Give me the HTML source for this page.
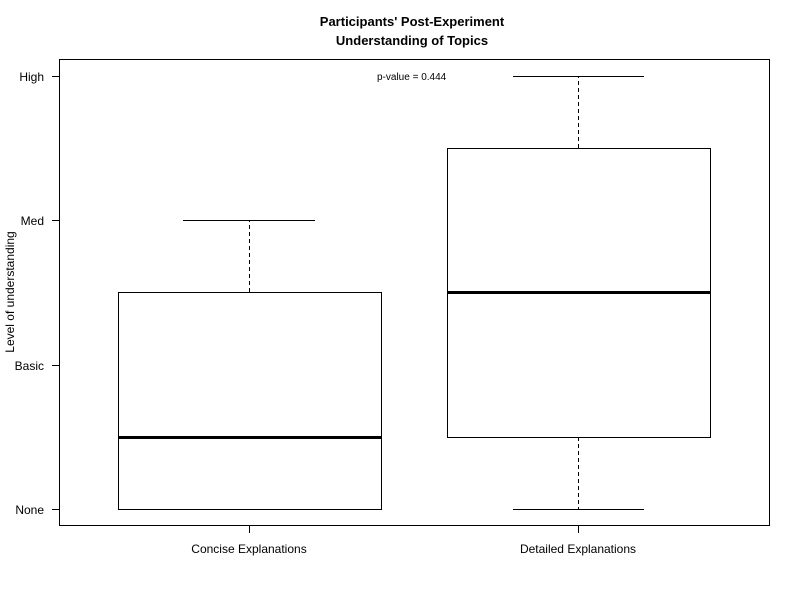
<!DOCTYPE html>
<html><head><meta charset="utf-8"><style>
html,body{margin:0;padding:0;background:#fff;}
svg{display:block;font-family:"Liberation Sans",Arial,sans-serif;}
</style></head><body>
<svg width="800" height="600" viewBox="0 0 800 600" xmlns="http://www.w3.org/2000/svg">
<rect width="800" height="600" fill="#fff"/>
<text x="412" y="26" font-size="13" font-weight="bold" text-anchor="middle">Participants' Post-Experiment</text>
<text x="412" y="45" font-size="13" font-weight="bold" text-anchor="middle">Understanding of Topics</text>
<rect x="59.5" y="59.5" width="710" height="466" fill="none" stroke="#000" stroke-width="1"/>
<g stroke="#000" stroke-width="1">
<line x1="52" y1="76.5" x2="59" y2="76.5"/>
<line x1="52" y1="220.5" x2="59" y2="220.5"/>
<line x1="52" y1="365.5" x2="59" y2="365.5"/>
<line x1="52" y1="509.5" x2="59" y2="509.5"/>
<line x1="249.5" y1="526" x2="249.5" y2="533"/>
<line x1="578.5" y1="526" x2="578.5" y2="533"/>
</g>
<g font-size="12" text-anchor="end">
<text x="44" y="81">High</text>
<text x="44" y="225">Med</text>
<text x="44" y="370">Basic</text>
<text x="44" y="514">None</text>
</g>
<text x="249" y="553" font-size="12" text-anchor="middle">Concise Explanations</text>
<text x="578" y="553" font-size="12" text-anchor="middle">Detailed Explanations</text>
<text transform="translate(14,292) rotate(-90)" font-size="12" text-anchor="middle">Level of understanding</text>
<text x="377" y="80" font-size="10">p-value = 0.444</text>
<g stroke="#000" fill="none" stroke-width="1">
<rect x="118.5" y="292.5" width="263" height="217"/>
<line x1="249.5" y1="292" x2="249.5" y2="220" stroke-dasharray="4,3"/>
<line x1="183" y1="220.5" x2="315" y2="220.5"/>
<rect x="447.5" y="148.5" width="263" height="289"/>
<line x1="578.5" y1="148" x2="578.5" y2="76" stroke-dasharray="4,3"/>
<line x1="513" y1="76.5" x2="644" y2="76.5"/>
<line x1="578.5" y1="437" x2="578.5" y2="509" stroke-dasharray="4,3"/>
<line x1="513" y1="509.5" x2="644" y2="509.5"/>
</g>
<line x1="118" y1="437.5" x2="381" y2="437.5" stroke="#000" stroke-width="3"/>
<line x1="447" y1="292.5" x2="710" y2="292.5" stroke="#000" stroke-width="3"/>
</svg>
</body></html>
